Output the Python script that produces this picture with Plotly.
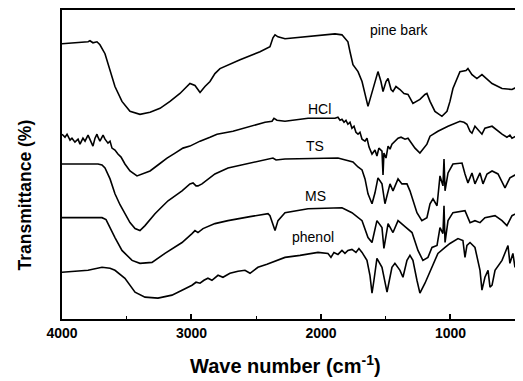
import plotly.graph_objects as go

# ---- data (wavenumber cm^-1, transmittance arbitrary units, offset spectra) ----
pine_wn = [4000, 3923, 3861, 3799, 3784, 3761, 3730, 3707, 3668, 3629, 3591, 3537, 3475, 3398, 3320, 3243,
           3166, 3089, 3012, 2973, 2934, 2896, 2857, 2819, 2780, 2625, 2471, 2394, 2371, 2355, 2332, 2278,
           2124, 2008, 1892, 1838, 1792, 1776, 1753, 1714, 1683, 1637, 1606, 1560, 1537, 1521, 1498, 1482,
           1459, 1444, 1421, 1390, 1359, 1328, 1290, 1259, 1236, 1197, 1182, 1158, 1120, 1066, 1027, 1004,
           981, 927, 880, 865, 834, 796, 772, 757, 679, 602, 525, 448]
pine_t = [277, 277.5, 278, 279, 280, 278, 279, 276, 267, 251, 234, 219, 209, 206, 208, 212,
          219, 227, 237, 235, 228, 234, 239, 247, 252, 261, 269, 274, 283, 286, 284, 282,
          284, 285, 287, 286, 279, 269, 256, 249, 239, 214, 229, 249, 239, 229, 239, 242,
          231, 229, 234, 231, 227, 226, 217, 219, 221, 226, 227, 219, 209, 204, 209, 219,
          232, 249, 250, 252, 246, 242, 245, 246, 237, 232, 231, 236]

hcl_wn = [4000, 3977, 3961, 3938, 3923, 3900, 3876, 3861, 3838, 3822, 3799, 3784, 3761, 3745, 3730, 3722,
          3707, 3683, 3668, 3645, 3629, 3614, 3591, 3568, 3544, 3514, 3475, 3421, 3375, 3320, 3259, 3189,
          3127, 3066, 3012, 2934, 2857, 2803, 2680, 2548, 2432, 2378, 2363, 2340, 2278, 2100, 1892, 1869,
          1853, 1838, 1822, 1807, 1792, 1776, 1761, 1745, 1730, 1714, 1699, 1683, 1660, 1645, 1629, 1606,
          1583, 1568, 1553, 1529, 1521, 1514, 1498, 1482, 1467, 1452, 1429, 1405, 1382, 1351, 1328, 1297,
          1274, 1236, 1205, 1182, 1158, 1097, 1019, 927, 896, 873, 849, 834, 811, 796, 772, 757,
          734, 679, 602, 564, 541, 525, 494, 448]
hcl_t = [186, 183, 186, 180, 182, 178, 181, 176, 182, 179, 185, 180, 174, 182, 186, 183,
         179, 185, 181, 177, 179, 172, 170, 166, 163, 156, 149, 144, 146, 149, 155, 162,
         167, 172, 174, 179, 183, 186, 189, 194, 198, 199, 202, 200, 199, 202, 202, 203,
         200, 201, 198, 200, 196, 198, 192, 194, 188, 186, 188, 181, 179, 182, 173, 166,
         170, 164, 172, 169, 145, 167, 162, 174, 171, 176, 179, 182, 183, 181, 182, 176,
         172, 167, 172, 176, 184, 189, 194, 199, 198, 196, 189, 187, 194, 192, 188, 186,
         192, 194, 186, 183, 185, 182, 184, 184]

ts_wn = [4000, 3861, 3722, 3691, 3668, 3629, 3591, 3552, 3514, 3475, 3436, 3398, 3359, 3320, 3282, 3228,
         3181, 3127, 3073, 3012, 2988, 2965, 2950, 2919, 2873, 2819, 2718, 2548, 2394, 2371, 2347, 2278,
         1869, 1792, 1753, 1714, 1683, 1660, 1637, 1606, 1583, 1560, 1529, 1506, 1482, 1467, 1444, 1405,
         1375, 1336, 1313, 1282, 1259, 1221, 1182, 1158, 1135, 1104, 1081, 1058, 1050, 1042, 1027, 1019,
         981, 911, 888, 865, 834, 811, 772, 749, 718, 679, 633, 579, 541, 448]
ts_t = [156, 156, 156, 155, 152, 141, 126, 115, 106, 97, 91, 89, 94, 100, 106, 113,
        119, 124, 129, 136, 137, 134, 134, 136, 141, 146, 152, 157, 161, 162, 160, 161,
        162, 159, 158, 153, 150, 141, 126, 116, 127, 142, 136, 116, 129, 136, 129, 141,
        136, 136, 129, 117, 107, 99, 102, 116, 121, 114, 144, 134, 161, 129, 144, 147,
        156, 157, 146, 137, 147, 136, 147, 136, 146, 149, 146, 132, 142, 149]

ms_wn = [4000, 3861, 3691, 3660, 3645, 3591, 3537, 3459, 3398, 3305, 3205, 3127, 3073, 2996, 2973, 2950,
         2911, 2819, 2718, 2548, 2409, 2394, 2378, 2355, 2332, 2278, 2100, 1838, 1761, 1683, 1637, 1606,
         1568, 1529, 1514, 1482, 1444, 1405, 1351, 1297, 1251, 1213, 1174, 1143, 1104, 1081, 1058, 1050,
         1042, 1027, 1019, 981, 888, 849, 811, 772, 734, 656, 602, 564, 525, 448]
ms_t = [102, 102, 102, 100, 96, 82, 69, 59, 56, 57, 66, 72, 77, 86, 89, 87,
        91, 96, 99, 103, 106, 104, 97, 89, 99, 107, 111, 112, 107, 99, 82, 77,
        99, 92, 71, 96, 87, 99, 93, 87, 69, 59, 62, 72, 74, 92, 86, 114,
        77, 94, 99, 107, 109, 97, 99, 97, 102, 104, 99, 94, 104, 109]

ph_wn = [4000, 3799, 3691, 3629, 3591, 3514, 3436, 3359, 3259, 3151, 3073, 2996, 2965, 2934, 2904, 2873,
         2842, 2795, 2757, 2703, 2641, 2587, 2548, 2487, 2417, 2278, 2162, 2023, 1946, 1923, 1900, 1869,
         1838, 1815, 1792, 1761, 1730, 1707, 1683, 1645, 1622, 1606, 1591, 1568, 1529, 1506, 1490, 1475,
         1452, 1429, 1390, 1367, 1336, 1313, 1290, 1259, 1236, 1197, 1158, 1120, 1097, 1042, 1004, 942,
         904, 888, 873, 849, 811, 772, 757, 734, 710, 695, 679, 656, 602, 556, 541, 518, 502, 479, 448]
ph_t = [47, 49, 52, 51, 49, 41, 27, 22, 21, 24, 29, 34, 37, 36, 39, 41,
        39, 44, 42, 46, 48, 49, 46, 52, 55, 62, 64, 67, 66, 62, 67, 65,
        69, 66, 69, 70, 67, 71, 67, 59, 44, 26, 39, 61, 52, 39, 27, 37,
        52, 56, 49, 42, 59, 64, 59, 39, 26, 36, 47, 59, 66, 72, 76, 81,
        79, 62, 74, 77, 72, 49, 29, 42, 49, 32, 34, 49, 59, 74, 56, 66, 52, 69, 69]

labels = ["pine bark", "HCl", "TS", "MS", "phenol"]
label_wn = [1390, 2008, 2046, 2046, 2062]
label_t = [291, 211, 174, 124, 83]

x_ticks = [4000, 3000, 2000, 1000]

fig = go.Figure()
for wn, t in [(pine_wn, pine_t), (hcl_wn, hcl_t), (ts_wn, ts_t), (ms_wn, ms_t), (ph_wn, ph_t)]:
    fig.add_trace(go.Scatter(x=wn, y=t, mode="lines",
                             line=dict(color="black", width=1.6), showlegend=False,
                             hoverinfo="skip"))

for name, xw, yt in zip(labels, label_wn, label_t):
    fig.add_annotation(x=xw, y=yt, text=name, showarrow=False,
                       font=dict(family="Liberation Sans, Arial", size=14, color="black"))

# page body has an 8px default margin: figure is sized/offset to compensate
fig.add_annotation(xref="paper", yref="paper", x=0.484, y=-0.148,
                   xanchor="center", yanchor="middle",
                   text="Wave number (cm<sup>-1</sup>)", showarrow=False,
                   font=dict(family="Liberation Sans, Arial", size=20, color="black", weight=700))
fig.add_annotation(xref="paper", yref="paper", x=-0.080, y=0.40,
                   xanchor="center", yanchor="middle",
                   text="Transmittance (%)", textangle=-90, showarrow=False,
                   font=dict(family="Liberation Sans, Arial", size=17.5, color="black", weight=700))

fig.update_layout(
    width=515, height=373,
    margin=dict(l=54, r=0, t=0, b=62, pad=0),
    paper_bgcolor="white", plot_bgcolor="white",
    xaxis=dict(range=[4000, 440], showgrid=False, zeroline=False,
               showline=True, linewidth=2, linecolor="black", mirror=True,
               ticks="inside", ticklen=5, tickwidth=1.5, tickcolor="black",
               tickvals=x_ticks, ticktext=[str(v) for v in x_ticks],
               tickfont=dict(family="Liberation Sans, Arial", size=14, color="black", weight=700),
               minor=dict(ticks="inside", ticklen=3, tickwidth=1.2, tickcolor="black", dtick=500,
                          tick0=0)),
    yaxis=dict(range=[0, 311], showgrid=False, zeroline=False,
               showline=True, linewidth=2, linecolor="black",
               showticklabels=False, ticks=""),
)

fig.write_html("out.html")
